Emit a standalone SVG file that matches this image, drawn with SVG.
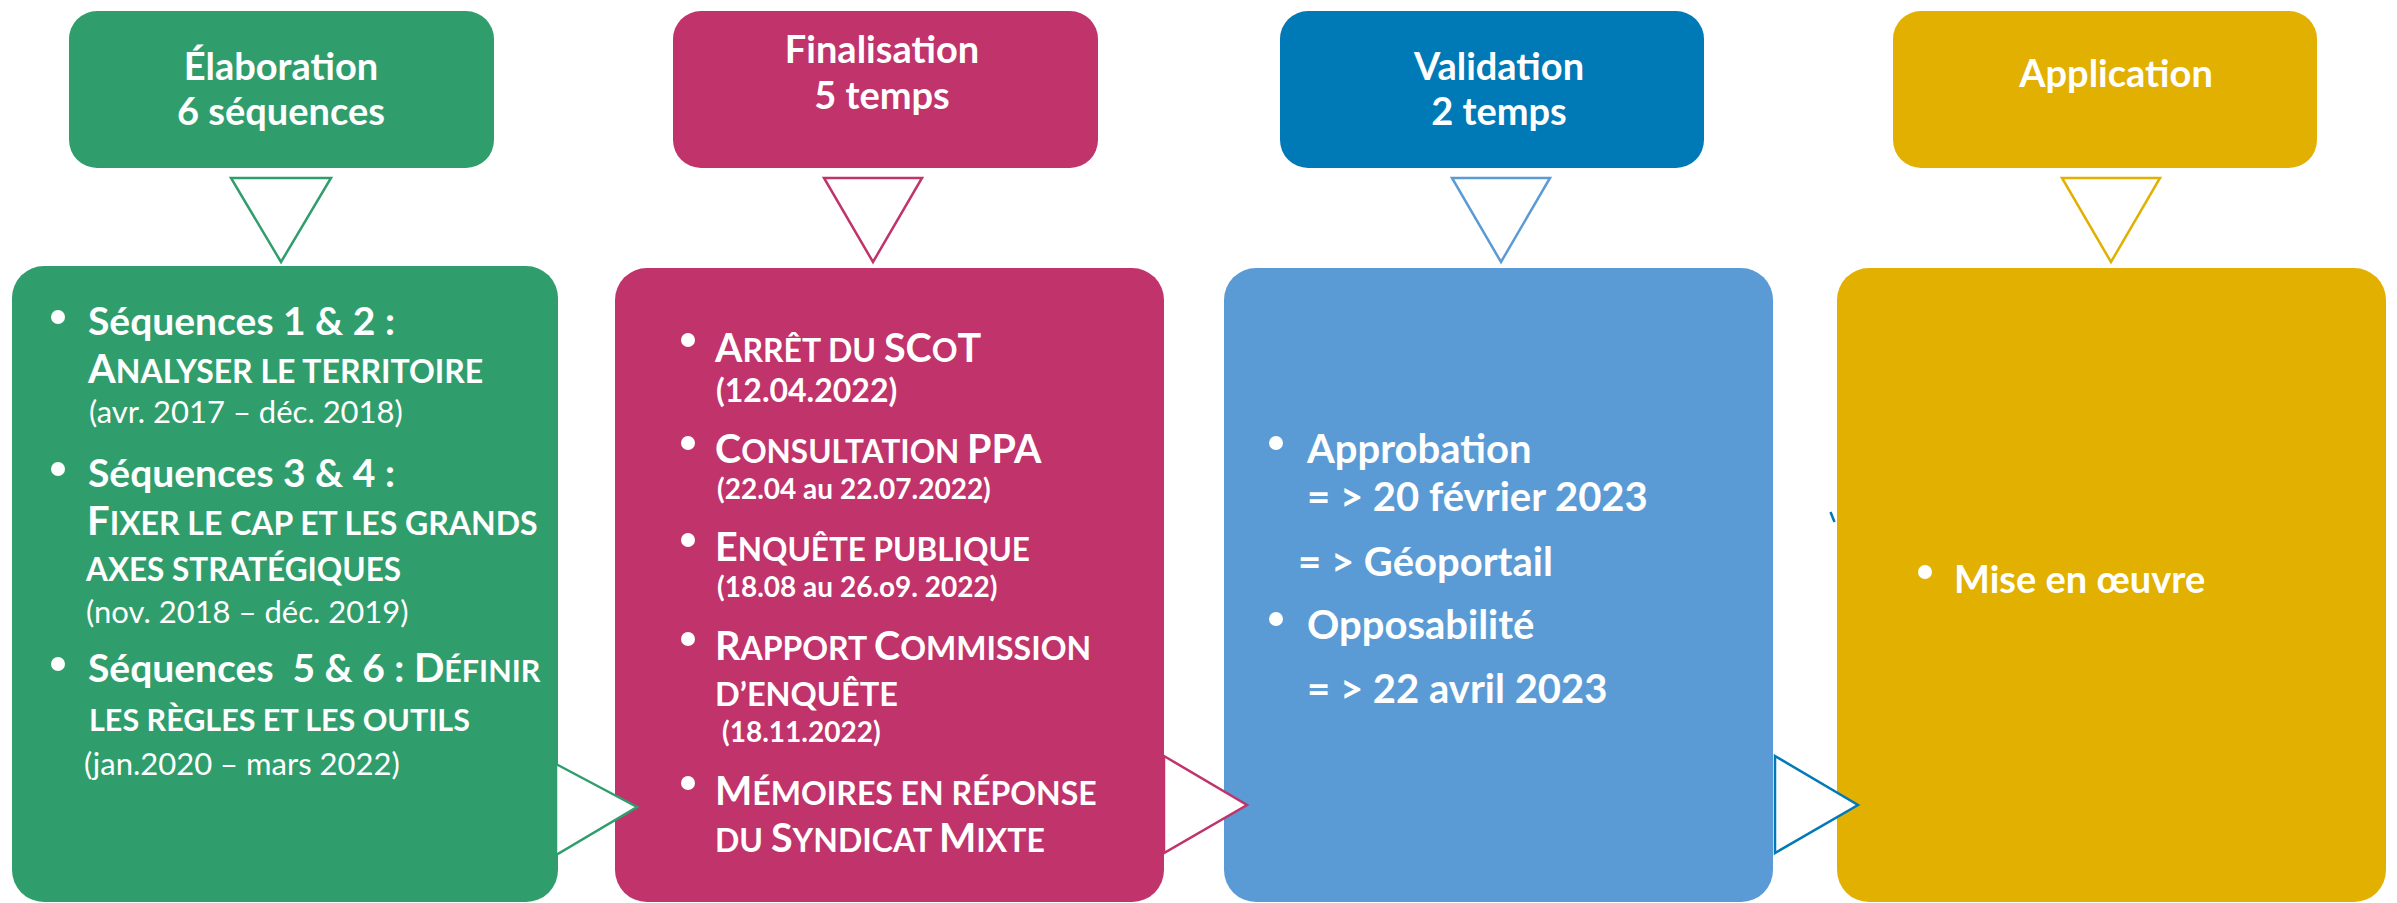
<svg xmlns="http://www.w3.org/2000/svg" width="2397" height="903" viewBox="0 0 2397 903">
<style>
.bg{fill:#ffffff}
.hdr{font-family:Lato,"Liberation Sans",sans-serif;font-weight:700;font-size:38px;fill:#ffffff;text-anchor:middle}
.t{font-family:Lato,"Liberation Sans",sans-serif;fill:#ffffff}
.bd{font-weight:700}
.rg{font-weight:400}
.dot{fill:#ffffff}
.tri{fill:#ffffff;stroke-width:2.5;stroke-linejoin:miter}
</style>
<rect class="bg" x="0" y="0" width="2397" height="903"/>

<g id="header-elaboration">
<rect x="69" y="11" width="425" height="157" rx="28" fill="#309E6C"/>
<text class="hdr" x="281" y="80">Élaboration</text>
<text class="hdr" x="281" y="125">6 séquences</text>
</g>
<g id="header-finalisation">
<rect x="673" y="11" width="425" height="157" rx="28" fill="#C1336B"/>
<text class="hdr" x="882" y="63">Finalisation</text>
<text class="hdr" x="882" y="109">5 temps</text>
</g>
<g id="header-validation">
<rect x="1280" y="11" width="424" height="157" rx="28" fill="#0079B7"/>
<text class="hdr" x="1499" y="80">Validation</text>
<text class="hdr" x="1499" y="125">2 temps</text>
</g>
<g id="header-application">
<rect x="1893" y="11" width="424" height="157" rx="28" fill="#E2B000"/>
<text class="hdr" x="2116" y="87">Application</text>
</g>

<g id="body-elaboration">
<rect x="12" y="266" width="546" height="636" rx="32" fill="#309E6C"/>
<circle class="dot" cx="58" cy="317" r="7"/>
<text class="t bd" x="88" y="335" font-size="39">Séquences 1 &amp; 2 :</text>
<text class="t bd" x="88" y="383" font-size="32"><tspan font-size="40">A</tspan>NALYSER LE TERRITOIRE</text>
<text class="t rg" x="89" y="423" font-size="31">(avr. 2017 – déc. 2018)</text>
<circle class="dot" cx="58" cy="469" r="7"/>
<text class="t bd" x="88" y="487" font-size="39">Séquences 3 &amp; 4 :</text>
<text class="t bd" x="87" y="535" font-size="32"><tspan font-size="40">F</tspan>IXER LE CAP ET LES GRANDS</text>
<text class="t bd" x="86" y="581" font-size="31.5">AXES STRATÉGIQUES</text>
<text class="t rg" x="86" y="623" font-size="31">(nov. 2018 – déc. 2019)</text>
<circle class="dot" cx="58" cy="664" r="7"/>
<text class="t bd" x="88" y="682" font-size="39" xml:space="preserve">Séquences  5 &amp; 6 : <tspan font-size="40">D</tspan><tspan font-size="30.5">ÉFINIR</tspan></text>
<text class="t bd" x="89" y="731" font-size="30.5">LES RÈGLES ET LES OUTILS</text>
<text class="t rg" x="84" y="775" font-size="31">(jan.2020 – mars 2022)</text>
</g>

<g id="body-finalisation">
<rect x="615" y="268" width="549" height="634" rx="32" fill="#C1336B"/>
<circle class="dot" cx="688" cy="340" r="7"/>
<text class="t bd" x="715" y="362" font-size="32"><tspan font-size="39.5">A</tspan>RRÊT DU <tspan font-size="39.5">SC</tspan>O<tspan font-size="39.5">T</tspan></text>
<text class="t bd" x="716" y="402" font-size="32">(12.04.2022)</text>
<circle class="dot" cx="688" cy="443" r="7"/>
<text class="t bd" x="715" y="463" font-size="31.5"><tspan font-size="39.5">C</tspan>ONSULTATION <tspan font-size="39.5">PPA</tspan></text>
<text class="t bd" x="717" y="499" font-size="28">(22.04 au 22.07.2022)</text>
<circle class="dot" cx="688" cy="540" r="7"/>
<text class="t bd" x="715" y="561" font-size="31.5"><tspan font-size="39.5">E</tspan>NQUÊTE PUBLIQUE</text>
<text class="t bd" x="717" y="597" font-size="28">(18.08 au 26.o9. 2022)</text>
<circle class="dot" cx="688" cy="639" r="7"/>
<text class="t bd" x="715" y="660" font-size="32"><tspan font-size="39.5">R</tspan>APPORT <tspan font-size="39.5">C</tspan>OMMISSION</text>
<text class="t bd" x="715" y="706" font-size="32.5">D’ENQUÊTE</text>
<text class="t bd" x="722" y="742" font-size="28">(18.11.2022)</text>
<circle class="dot" cx="688" cy="783" r="7"/>
<text class="t bd" x="715" y="805" font-size="32"><tspan font-size="39.5">M</tspan>ÉMOIRES EN RÉPONSE</text>
<text class="t bd" x="715" y="852" font-size="32">DU <tspan font-size="39.5">S</tspan>YNDICAT <tspan font-size="39.5">M</tspan>IXTE</text>
</g>

<g id="body-validation">
<rect x="1224" y="268" width="549" height="634" rx="32" fill="#5B9BD5"/>
<circle class="dot" cx="1276" cy="443" r="7"/>
<text class="t bd" x="1307" y="463" font-size="40">Approbation</text>
<text class="t bd" x="1307" y="511" font-size="40">= &gt; 20 février 2023</text>
<text class="t bd" x="1298" y="576" font-size="40">= &gt; Géoportail</text>
<circle class="dot" cx="1276" cy="619" r="7"/>
<text class="t bd" x="1307" y="639" font-size="40">Opposabilité</text>
<text class="t bd" x="1307" y="703" font-size="40">= &gt; 22 avril 2023</text>
</g>

<g id="body-application">
<rect x="1837" y="268" width="549" height="634" rx="32" fill="#E2B000"/>
<circle class="dot" cx="1925" cy="572" r="7"/>
<text class="t bd" x="1954" y="593" font-size="38">Mise en œuvre</text>
</g>

<g id="connectors">
<polygon class="tri" points="231,178 331,178 281,262" stroke="#309E6C"/>
<polygon class="tri" points="824,178 922,178 873,262" stroke="#C1336B"/>
<polygon class="tri" points="1452,178 1550,178 1501,262" stroke="#5B9BD5"/>
<polygon class="tri" points="2062,178 2160,178 2111,262" stroke="#E2B000"/>
<polygon class="tri" points="556,764 637,807 556,855" stroke="#309E6C"/>
<polygon class="tri" points="1164,756 1247,805 1164,853" stroke="#C1336B"/>
<polygon class="tri" points="1775,756 1858,805 1775,853" stroke="#0079B7"/>
<line x1="1830.5" y1="512" x2="1834.5" y2="522" stroke="#0079B7" stroke-width="2.5"/>
</g>
</svg>
